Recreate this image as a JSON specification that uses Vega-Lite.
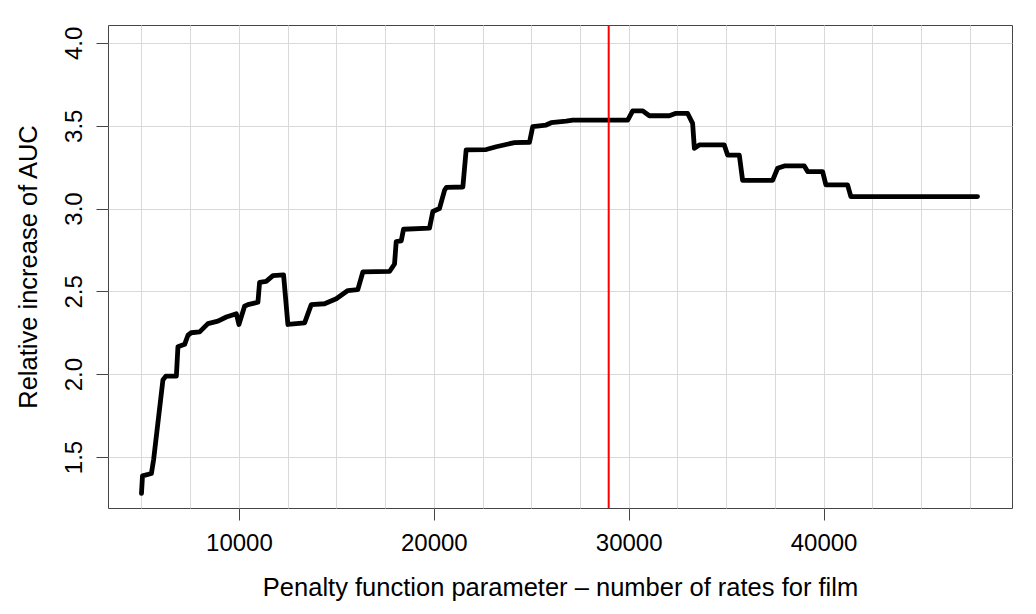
{
  "$schema": "https://vega.github.io/schema/vega-lite/v6.json",
  "width": 904,
  "height": 483,
  "autosize": {"type": "none"},
  "padding": {"left": 108, "top": 25, "right": 24, "bottom": 106},
  "background": "white",
  "config": {
    "view": {"stroke": "#444444", "strokeWidth": 1},
    "font": "Liberation Sans",
    "axis": {
      "labelFont": "Liberation Sans",
      "titleFont": "Liberation Sans",
      "labelFontSize": 24,
      "titleFontSize": 25.5,
      "titleFontWeight": "normal",
      "labelColor": "black",
      "titleColor": "black",
      "domain": false,
      "tickColor": "#444444",
      "tickSize": 12,
      "gridColor": "#d9d9d9",
      "gridWidth": 1,
      "gridOpacity": 1
    }
  },
  "datasets": {
    "curve": [
      {"penalty": 5000, "auc": 1.28},
      {"penalty": 5052, "auc": 1.386},
      {"penalty": 5508, "auc": 1.40},
      {"penalty": 5625, "auc": 1.486},
      {"penalty": 6100, "auc": 1.965},
      {"penalty": 6250, "auc": 1.988},
      {"penalty": 6790, "auc": 1.988},
      {"penalty": 6870, "auc": 2.165},
      {"penalty": 7215, "auc": 2.18},
      {"penalty": 7385, "auc": 2.235},
      {"penalty": 7550, "auc": 2.25},
      {"penalty": 7985, "auc": 2.255},
      {"penalty": 8410, "auc": 2.305},
      {"penalty": 8923, "auc": 2.32},
      {"penalty": 9354, "auc": 2.345},
      {"penalty": 9867, "auc": 2.365},
      {"penalty": 10000, "auc": 2.30},
      {"penalty": 10290, "auc": 2.41},
      {"penalty": 10460, "auc": 2.42},
      {"penalty": 10975, "auc": 2.434},
      {"penalty": 11060, "auc": 2.554},
      {"penalty": 11400, "auc": 2.56},
      {"penalty": 11745, "auc": 2.595},
      {"penalty": 12290, "auc": 2.60},
      {"penalty": 12513, "auc": 2.30},
      {"penalty": 13370, "auc": 2.31},
      {"penalty": 13712, "auc": 2.42},
      {"penalty": 14395, "auc": 2.425},
      {"penalty": 14995, "auc": 2.455},
      {"penalty": 15590, "auc": 2.505},
      {"penalty": 16100, "auc": 2.51},
      {"penalty": 16360, "auc": 2.617},
      {"penalty": 17728, "auc": 2.62},
      {"penalty": 17985, "auc": 2.665},
      {"penalty": 18070, "auc": 2.80},
      {"penalty": 18330, "auc": 2.805},
      {"penalty": 18446, "auc": 2.875},
      {"penalty": 19780, "auc": 2.882},
      {"penalty": 19950, "auc": 2.982},
      {"penalty": 20290, "auc": 3.0},
      {"penalty": 20550, "auc": 3.11},
      {"penalty": 20650, "auc": 3.128},
      {"penalty": 21490, "auc": 3.13},
      {"penalty": 21660, "auc": 3.354},
      {"penalty": 22690, "auc": 3.356},
      {"penalty": 23200, "auc": 3.373},
      {"penalty": 24140, "auc": 3.398},
      {"penalty": 24910, "auc": 3.40},
      {"penalty": 25075, "auc": 3.494},
      {"penalty": 25760, "auc": 3.504},
      {"penalty": 26020, "auc": 3.518},
      {"penalty": 26790, "auc": 3.528},
      {"penalty": 27130, "auc": 3.534},
      {"penalty": 29950, "auc": 3.534},
      {"penalty": 30205, "auc": 3.59},
      {"penalty": 30720, "auc": 3.59},
      {"penalty": 31060, "auc": 3.56},
      {"penalty": 32085, "auc": 3.56},
      {"penalty": 32430, "auc": 3.575},
      {"penalty": 33020, "auc": 3.575},
      {"penalty": 33280, "auc": 3.514},
      {"penalty": 33370, "auc": 3.364},
      {"penalty": 33620, "auc": 3.384},
      {"penalty": 34905, "auc": 3.384},
      {"penalty": 35075, "auc": 3.323},
      {"penalty": 35675, "auc": 3.323},
      {"penalty": 35845, "auc": 3.17},
      {"penalty": 37385, "auc": 3.17},
      {"penalty": 37640, "auc": 3.243},
      {"penalty": 37985, "auc": 3.257},
      {"penalty": 39010, "auc": 3.257},
      {"penalty": 39180, "auc": 3.223},
      {"penalty": 39950, "auc": 3.223},
      {"penalty": 40120, "auc": 3.143},
      {"penalty": 41230, "auc": 3.143},
      {"penalty": 41400, "auc": 3.072},
      {"penalty": 47900, "auc": 3.072}
    ],
    "chosen": [{"penalty": 28974}]
  },
  "layer": [
    {
      "data": {"name": "curve"},
      "mark": {"type": "line", "color": "black", "strokeWidth": 4.8, "strokeCap": "round", "strokeJoin": "round", "clip": true},
      "encoding": {
        "x": {
          "field": "penalty",
          "type": "quantitative",
          "scale": {"domain": [3282, 49668], "nice": false, "zero": false},
          "axis": {
            "title": "Penalty function parameter \u2013 number of rates for film",
            "values": [5000, 7500, 10000, 12500, 15000, 17500, 20000, 22500, 25000, 27500, 30000, 32500, 35000, 37500, 40000, 42500, 45000, 47500],
            "labelExpr": "datum.value % 10000 === 0 ? format(datum.value, 'd') : ''",
            "tickOpacity": {"condition": {"test": "datum.value % 10000 === 0", "value": 1}, "value": 0},
            "labelPadding": 11,
            "labelFlush": false,
            "labelOverlap": false,
            "titlePadding": 20
          }
        },
        "y": {
          "field": "auc",
          "type": "quantitative",
          "scale": {"domain": [1.192, 4.108], "nice": false, "zero": false},
          "axis": {
            "title": "Relative increase of AUC",
            "values": [1.5, 2.0, 2.5, 3.0, 3.5, 4.0],
            "format": ".1f",
            "labelAngle": -90,
            "labelAlign": "center",
            "labelBaseline": "bottom",
            "labelPadding": 10,
            "labelFlush": false,
            "labelOverlap": false,
            "titlePadding": 21
          }
        }
      }
    },
    {
      "data": {"name": "chosen"},
      "mark": {"type": "rule", "color": "#ff0000", "strokeWidth": 2},
      "encoding": {
        "x": {"field": "penalty", "type": "quantitative"}
      }
    }
  ]
}
